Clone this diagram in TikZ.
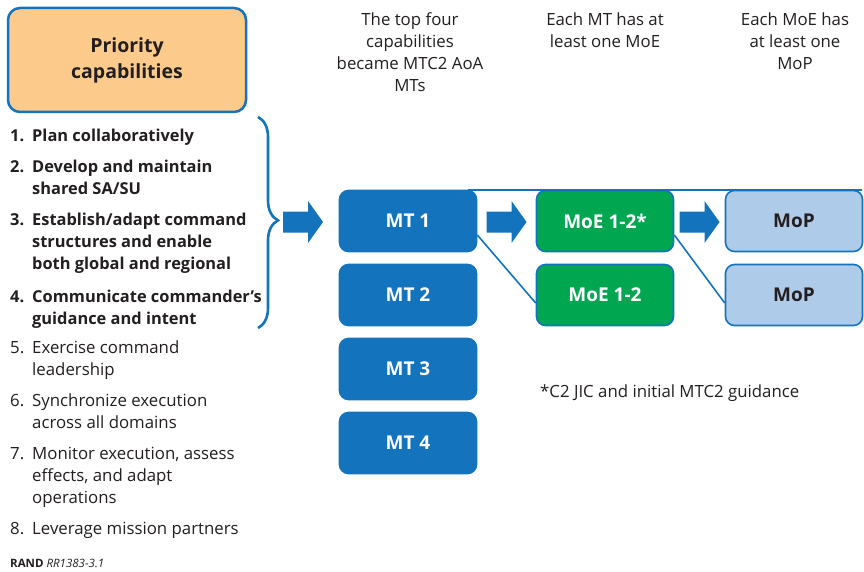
\documentclass[tikz,border=0pt]{standalone}
\usepackage{fontspec}
\setmainfont{Open Sans}
\usetikzlibrary{decorations.pathreplacing,calc}
\definecolor{randblue}{HTML}{1373BD}
\definecolor{randgreen}{HTML}{00A650}
\definecolor{moplight}{HTML}{AFCBEA}
\definecolor{prioorange}{HTML}{FCCB8C}
\definecolor{txtdark}{HTML}{231F20}
\tikzset{
  boxbase/.style={draw=randblue, line width=1.6pt, rounded corners=9pt, minimum width=137pt, minimum height=61pt, inner sep=0pt, font=\fontsize{19}{20}\selectfont\bfseries},
  mtbox/.style={boxbase, fill=randblue, text=white},
  moebox/.style={boxbase, fill=randgreen, text=white},
  mopbox/.style={boxbase, fill=moplight, text=txtdark},
  itemtxt/.style={anchor=base west, inner sep=0pt, align=left, text=txtdark, font=\fontsize{16.8}{22}\selectfont},
  itembold/.style={itemtxt, font=\fontsize{16.4}{22}\selectfont\bfseries},
  hdr/.style={anchor=base, inner sep=0pt, align=center, text=txtdark, font=\fontsize{16.8}{22}\selectfont},
  connline/.style={draw=randblue, line width=1.6pt},
  topline/.style={draw=randblue, line width=2.2pt},
  bracestyle/.style={draw=randblue, line width=2.6pt, decorate, decoration={brace, amplitude=20pt, aspect=0.49}},
  barrow/.pic={\fill[randblue] (-20,-10.5) -- (5,-10.5) -- (5,-21) -- (20,0) -- (5,21) -- (5,10.5) -- (-20,10.5) -- cycle;}
}
\begin{document}
\begin{tikzpicture}[x=1pt,y=-1pt]
\useasboundingbox[fill=white] (0,0) rectangle (864,572);

% priority box
\node[draw=randblue, line width=2.5pt, fill=prioorange, rounded corners=12pt, minimum width=238pt, minimum height=104pt, align=center, text=txtdark, font=\fontsize{19.5}{26}\selectfont\bfseries] (prio) at (127,60) {Priority\\capabilities};

% list (base anchor = baseline of last line)
\node[itembold] (n1) at (10,142) {1.};
\node[itembold] (t1) at (32,142) {Plan collaboratively};
\node[itembold] (n2) at (10,172) {2.};
\node[itembold] (t2) at (32,194) {Develop and maintain\\shared SA/SU};
\node[itembold] (n3) at (10,225) {3.};
\node[itembold] (t3) at (32,269) {Establish/adapt command\\structures and enable\\both global and regional};
\node[itembold] (n4) at (10,302) {4.};
\node[itembold] (t4) at (32,324) {Communicate commander’s\\guidance and intent};
\node[itemtxt] (n5) at (10,353) {5.};
\node[itemtxt] (t5) at (32,375) {Exercise command\\leadership};
\node[itemtxt] (n6) at (10,406) {6.};
\node[itemtxt] (t6) at (32,428) {Synchronize execution\\across all domains};
\node[itemtxt] (n7) at (10,459) {7.};
\node[itemtxt] (t7) at (32,503) {Monitor execution, assess\\effects, and adapt\\operations};
\node[itemtxt] (n8) at (10,534) {8.};
\node[itemtxt] (t8) at (32,534) {Leverage mission partners};

% brace
\coordinate (bt) at (258,117);
\coordinate (bb) at (258,328);
\draw[bracestyle] (bt) -- (bb);

% headers
\node[hdr] (h1) at (410,92) {The top four\\capabilities\\became MTC2 AoA\\MTs};
\node[hdr] (h2) at (605,48) {Each MT has at\\least one MoE};
\node[hdr] (h3) at (795,70) {Each MoE has\\at least one\\MoP};

% boxes
\node[mtbox] (mt1) at (408,221) {MT 1};
\node[mtbox] (mt2) at (408,295) {MT 2};
\node[mtbox] (mt3) at (408,369) {MT 3};
\node[mtbox] (mt4) at (408,443) {MT 4};
\node[moebox] (moe1) at (605,221) {MoE 1-2*};
\node[moebox] (moe2) at (605,295) {MoE 1-2};
\node[mopbox] (mop1) at (794,221) {MoP};
\node[mopbox] (mop2) at (794,295) {MoP};

% connectors
\draw[topline] ([xshift=-9pt]mt1.north east) -- ([xshift=-1pt]mop1.north east);
\draw[connline] ([yshift=-14pt]mt1.east) -- ([yshift=-8pt]moe2.west);
\draw[connline] ([yshift=-14pt]moe1.east) -- ([yshift=-8pt]mop2.west);

% block arrows
\pic at (303,222) {barrow};
\pic at ($(mt1.east)!0.5!(moe1.west)+(0,1)$) {barrow};
\pic at ($(moe1.east)!0.5!(mop1.west)+(0,1)$) {barrow};

% footnote
\node[anchor=base west, inner sep=0pt, text=txtdark, font=\fontsize{16.8}{22}\selectfont] (fn) at (540,397) {*C2 JIC and initial MTC2 guidance};

% source
\node[anchor=base west, inner sep=0pt, text=txtdark, font=\fontsize{11.5}{13}\selectfont] (src) at (10,567) {\textbf{RAND} \textit{RR1383-3.1}};
\end{tikzpicture}
\end{document}
